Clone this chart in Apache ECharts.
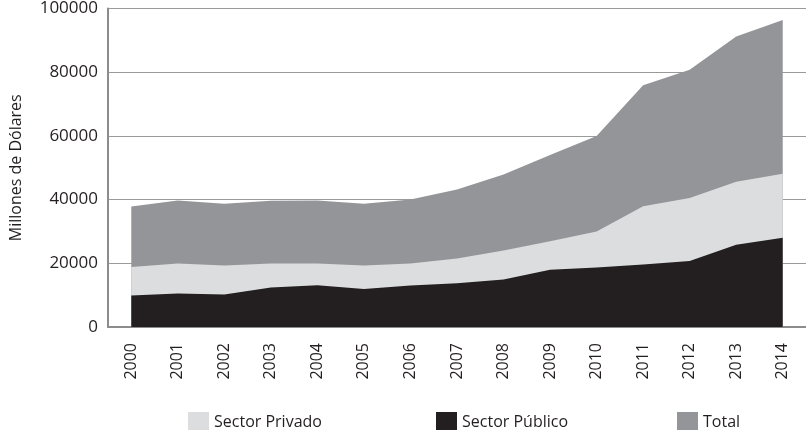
<!DOCTYPE html>
<html>
<head>
<meta charset="utf-8">
<script src="https://cdn.jsdelivr.net/npm/echarts@6/dist/echarts.min.js"></script>
<style>
  html, body { margin: 0; padding: 0; background: #fff; }
  #chart { width: 806px; height: 430px; }
</style>
</head>
<body>
<div id="chart"></div>
<script>
// Años del periodo
const years = ['2000','2001','2002','2003','2004','2005','2006','2007','2008','2009','2010','2011','2012','2013','2014'];

// Deuda externa, millones de dólares
const total = [37800, 39700, 38700, 39600, 39700, 38700, 40000, 43200, 47900, 54000, 60000, 75900, 80800, 91200, 96400];
const sectorPrivado = [18800, 19900, 19300, 19900, 19900, 19300, 19900, 21500, 24000, 26900, 30000, 37900, 40500, 45600, 48100];
const sectorPublico = [9900, 10500, 10200, 12400, 13100, 11900, 13000, 13700, 14900, 18000, 18700, 19600, 20700, 25800, 28000];

const yTicks = { min: 0, max: 100000, interval: 20000 };

const FONT = '"Open Sans"';
const TEXT = '#231f20';
const AXIS = '#8c8c8c';

function area(name, data, color) {
  return {
    name: name,
    type: 'line',
    data: data,
    symbol: 'none',
    lineStyle: { width: 0 },
    itemStyle: { color: color },
    areaStyle: { color: color, opacity: 1 },
    silent: true,
    animation: false
  };
}

function legendAt(name, left) {
  return {
    data: [name],
    left: left,
    top: 407,
    itemWidth: 21,
    itemHeight: 21,
    itemGap: 6,
    icon: 'rect',
    textStyle: { fontFamily: FONT, fontSize: 16, color: TEXT },
    selectedMode: false
  };
}

const chart = echarts.init(document.getElementById('chart'), null, { renderer: 'canvas' });
chart.setOption({
  animation: false,
  grid: { left: 107, right: 0, top: 7, bottom: 103, containLabel: false },
  legend: [
    legendAt('Sector Privado', 183),
    legendAt('Sector Público', 431),
    legendAt('Total', 672)
  ],
  xAxis: {
    type: 'category',
    data: years,
    boundaryGap: true,
    axisLine: { show: true, lineStyle: { color: AXIS, width: 2 } },
    axisTick: { show: false },
    axisLabel: { rotate: 90, margin: 16, fontFamily: FONT, fontSize: 16, color: TEXT }
  },
  yAxis: {
    type: 'value',
    min: yTicks.min,
    max: yTicks.max,
    interval: yTicks.interval,
    name: 'Millones de Dólares',
    nameLocation: 'middle',
    nameGap: 84,
    nameRotate: 90,
    nameTextStyle: { fontFamily: FONT, fontSize: 16, color: TEXT },
    axisLine: { show: true, lineStyle: { color: AXIS, width: 2 } },
    axisTick: { show: false },
    splitLine: { show: true, lineStyle: { color: '#9a9a9a', width: 1 } },
    axisLabel: {
      margin: 10, fontFamily: FONT, fontSize: 17, color: TEXT,
      formatter: function (v) { return String(v); }
    }
  },
  series: [
    area('Total', total, '#939598'),
    area('Sector Privado', sectorPrivado, '#dcdddf'),
    area('Sector Público', sectorPublico, '#231f20')
  ]
});
</script>
</body>
</html>
